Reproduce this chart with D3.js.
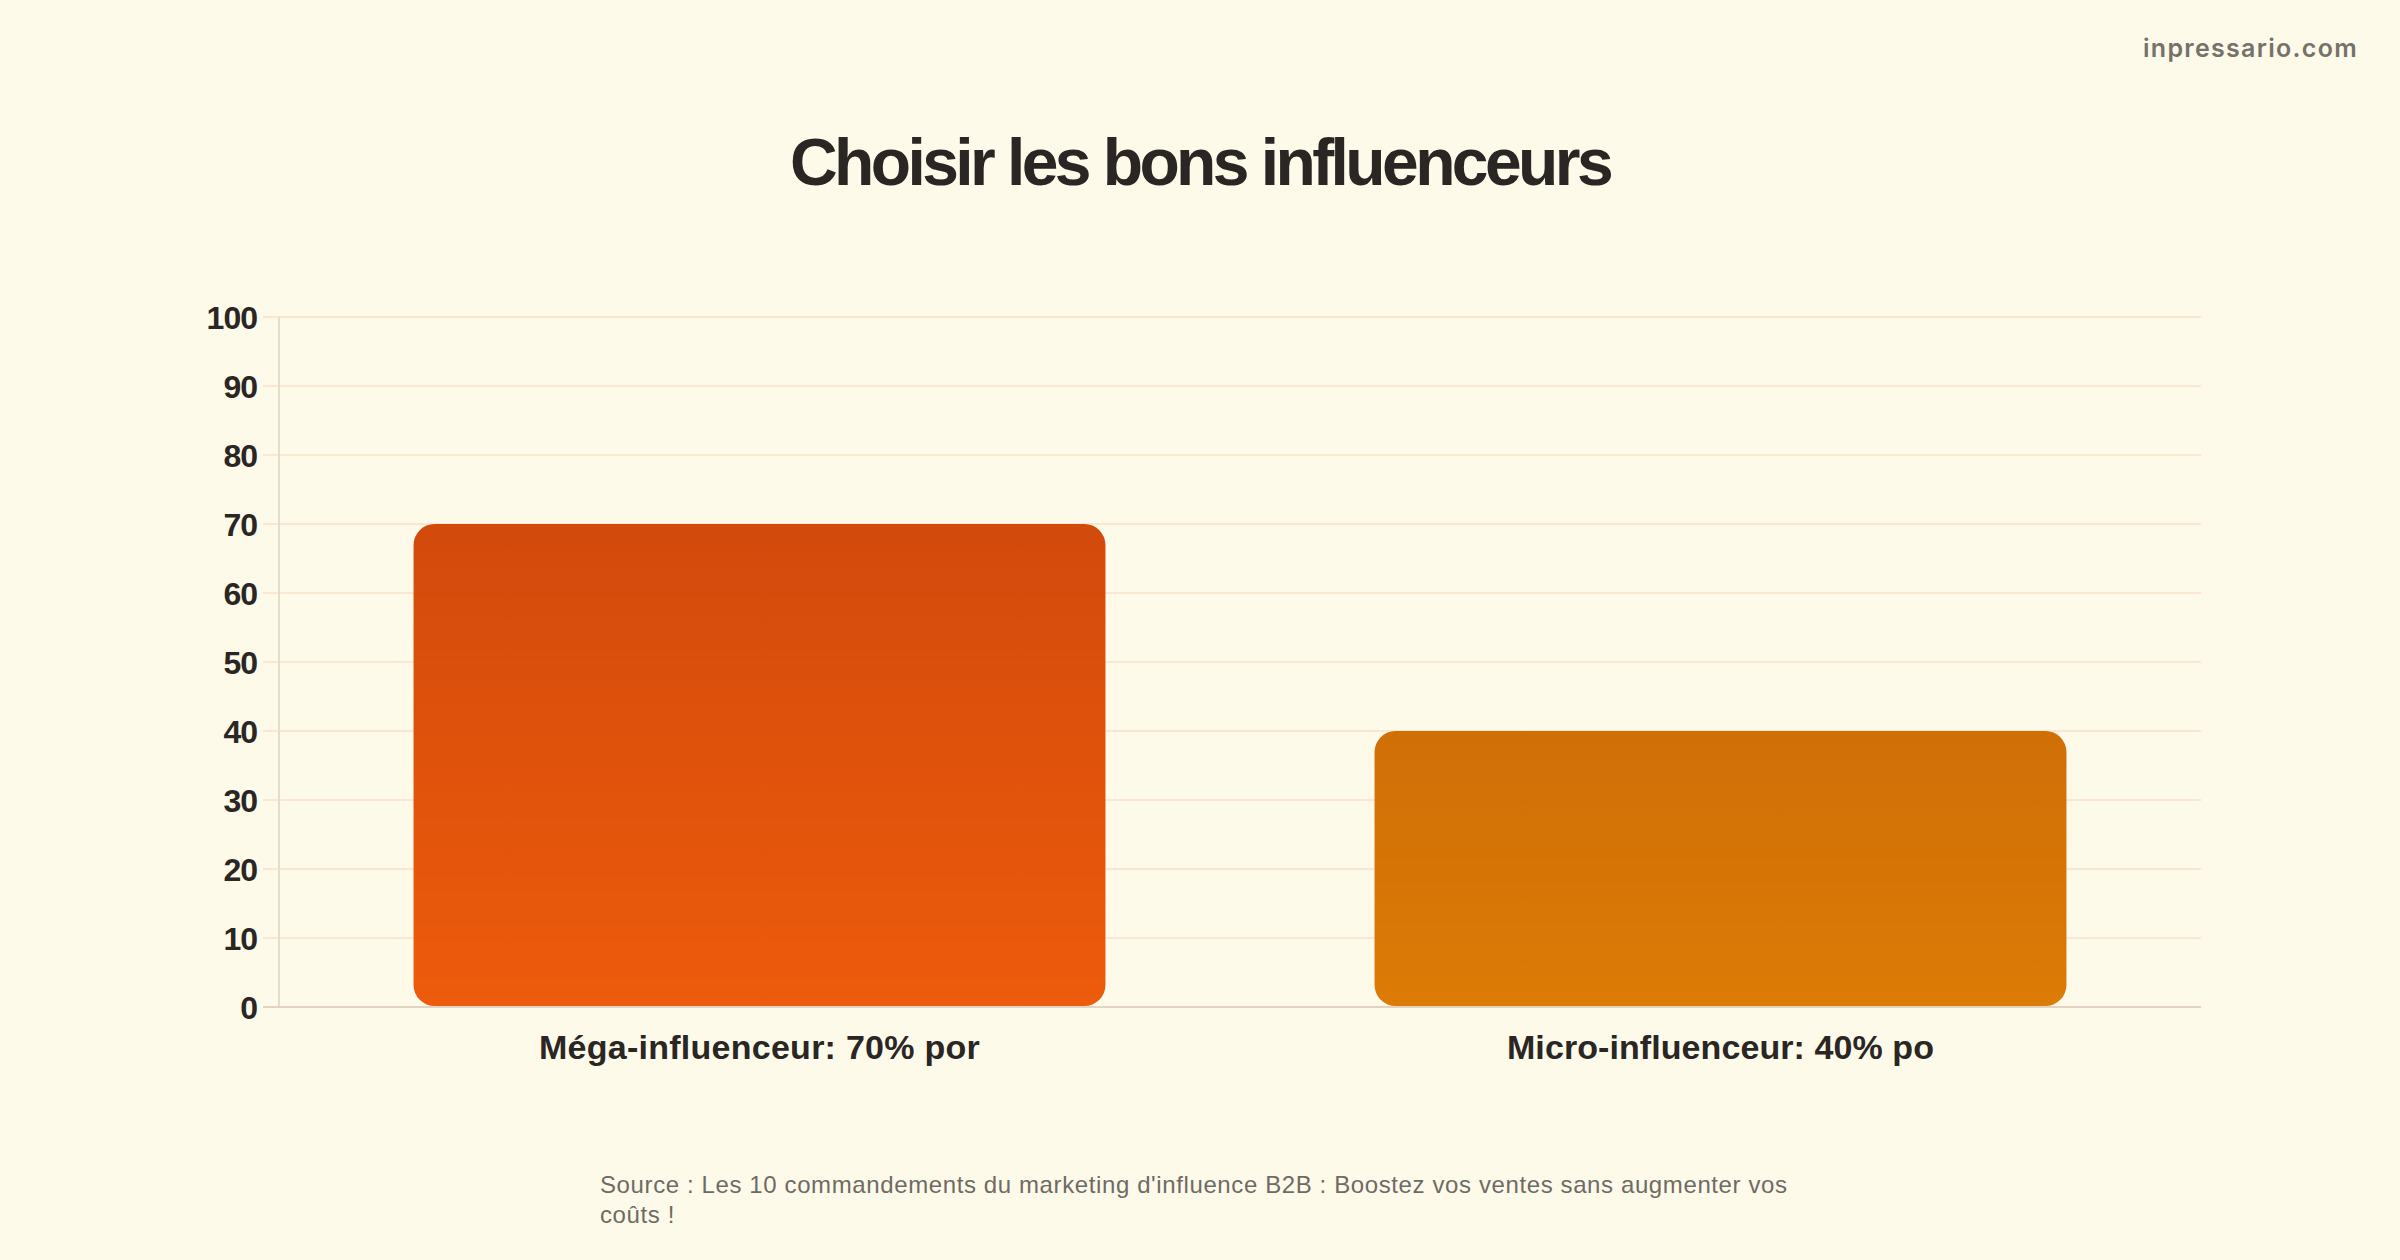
<!DOCTYPE html>
<html>
<head>
<meta charset="utf-8">
<script src="https://cdn.jsdelivr.net/npm/d3@7"></script>
<style>
  html, body { margin: 0; padding: 0; background: #fefaea; }
  svg { display: block; }
</style>
</head>
<body>
<svg id="chart"></svg>
<script>
// data
var categories = ['Méga-influenceur: 70% por', 'Micro-influenceur: 40% po'];
var values = [70, 40];
var yTicks = [0, 10, 20, 30, 40, 50, 60, 70, 80, 90, 100];
var title = 'Choisir les bons influenceurs';
var brand = 'inpressario.com';
var sourceLines = [
    "Source : Les 10 commandements du marketing d'influence B2B : Boostez vos ventes sans augmenter vos",
    'coûts !'
];

// palette (top / bottom of each bar gradient)
var barTop = ['#d24a0c', '#d06f07'];
var barBottom = ['#ed5b0c', '#dc7b05'];

var W = 2400, H = 1260;
var svg = d3.select('#chart').attr('width', W).attr('height', H);
svg.append('rect').attr('width', W).attr('height', H).attr('fill', '#fefaea');

var plot = { left: 279, right: 2201, top: 317, bottom: 1007 };

var x = d3.scaleBand()
    .domain(categories)
    .range([plot.left, plot.right])
    .paddingInner(0.28)
    .paddingOuter(0.14);

var y = d3.scaleLinear()
    .domain([0, 100])
    .range([plot.bottom, plot.top]);

// helper: squeeze/stretch a text to a width with letter-spacing
function fitWidth(sel, target) {
    var node = sel.node();
    var n = sel.text().length;
    var len = node.getComputedTextLength();
    sel.attr('letter-spacing', ((target - len) / n).toFixed(2));
}

// gridlines
svg.append('g')
    .selectAll('line')
    .data(yTicks.filter(function(d) { return d > 0; }))
    .enter()
    .append('line')
    .attr('x1', plot.left - 16)
    .attr('x2', plot.right)
    .attr('y1', function(d) { return y(d); })
    .attr('y2', function(d) { return y(d); })
    .attr('stroke', '#fbe6d2')
    .attr('stroke-width', 2);

// y axis line
svg.append('line')
    .attr('x1', plot.left).attr('x2', plot.left)
    .attr('y1', plot.top).attr('y2', plot.bottom)
    .attr('stroke', '#e4dccd')
    .attr('stroke-width', 2);

// tick labels
svg.append('g')
    .selectAll('text')
    .data(yTicks)
    .enter()
    .append('text')
    .attr('x', plot.left - 22)
    .attr('y', function(d) { return y(d); })
    .attr('dy', '0.36em')
    .attr('text-anchor', 'end')
    .style('font-family', '"Liberation Sans", Arial, sans-serif')
    .style('font-weight', 700)
    .style('font-size', '32px')
    .attr('letter-spacing', -1)
    .attr('fill', '#2a2623')
    .text(function(d) { return d; });

// gradients
var defs = svg.append('defs');
categories.forEach(function(c, i) {
    var g = defs.append('linearGradient')
        .attr('id', 'grad' + i)
        .attr('x1', 0).attr('y1', 0).attr('x2', 0).attr('y2', 1);
    g.append('stop').attr('offset', '0%').attr('stop-color', barTop[i]);
    g.append('stop').attr('offset', '100%').attr('stop-color', barBottom[i]);
});

// bars
svg.append('g')
    .selectAll('rect')
    .data(values)
    .enter()
    .append('rect')
    .attr('x', function(d, i) { return x(categories[i]); })
    .attr('width', x.bandwidth())
    .attr('y', function(d) { return y(d); })
    .attr('height', function(d) { return y(0) - y(d) - 1; })
    .attr('rx', 21)
    .attr('ry', 21)
    .attr('fill', function(d, i) { return 'url(#grad' + i + ')'; });

// x baseline
svg.append('line')
    .attr('x1', plot.left - 16).attr('x2', plot.right)
    .attr('y1', plot.bottom).attr('y2', plot.bottom)
    .attr('stroke', '#e2d3c3')
    .attr('stroke-width', 2);

// category labels
svg.append('g')
    .selectAll('text')
    .data(categories)
    .enter()
    .append('text')
    .attr('x', function(d) { return x(d) + x.bandwidth() / 2; })
    .attr('y', 1059)
    .attr('text-anchor', 'middle')
    .style('font-family', '"Liberation Sans", Arial, sans-serif')
    .style('font-weight', 700)
    .style('font-size', '34px')
    .attr('fill', '#2a2623')
    .text(function(d) { return d; })
    .each(function(d, i) { fitWidth(d3.select(this), i === 0 ? 441 : 427); });

// title
var t = svg.append('text')
    .attr('x', 1200)
    .attr('y', 185)
    .attr('text-anchor', 'middle')
    .style('font-family', '"Liberation Sans", Arial, sans-serif')
    .style('font-weight', 700)
    .style('font-size', '66px')
    .attr('fill', '#2a2623')
    .text(title);
fitWidth(t, 820);

// brand
var b = svg.append('text')
    .attr('x', 2358)
    .attr('y', 57)
    .attr('text-anchor', 'end')
    .style('font-family', 'Inter, "Liberation Sans", sans-serif')
    .style('font-weight', 600)
    .style('font-size', '25px')
    .attr('fill', '#75716b')
    .text(brand);
fitWidth(b, 215);

// source note
var s = svg.append('text')
    .attr('x', 600)
    .attr('y', 1193)
    .style('font-family', '"Liberation Sans", Arial, sans-serif')
    .style('font-size', '24px')
    .attr('fill', '#6f6a64');
s.selectAll('tspan')
    .data(sourceLines)
    .enter()
    .append('tspan')
    .attr('x', 600)
    .attr('y', function(d, i) { return 1193 + i * 30; })
    .text(function(d) { return d; });
var first = s.select('tspan');
var firstLen = first.node().getComputedTextLength();
s.attr('letter-spacing', ((1188 - firstLen) / sourceLines[0].length).toFixed(2));
</script>
</body>
</html>
